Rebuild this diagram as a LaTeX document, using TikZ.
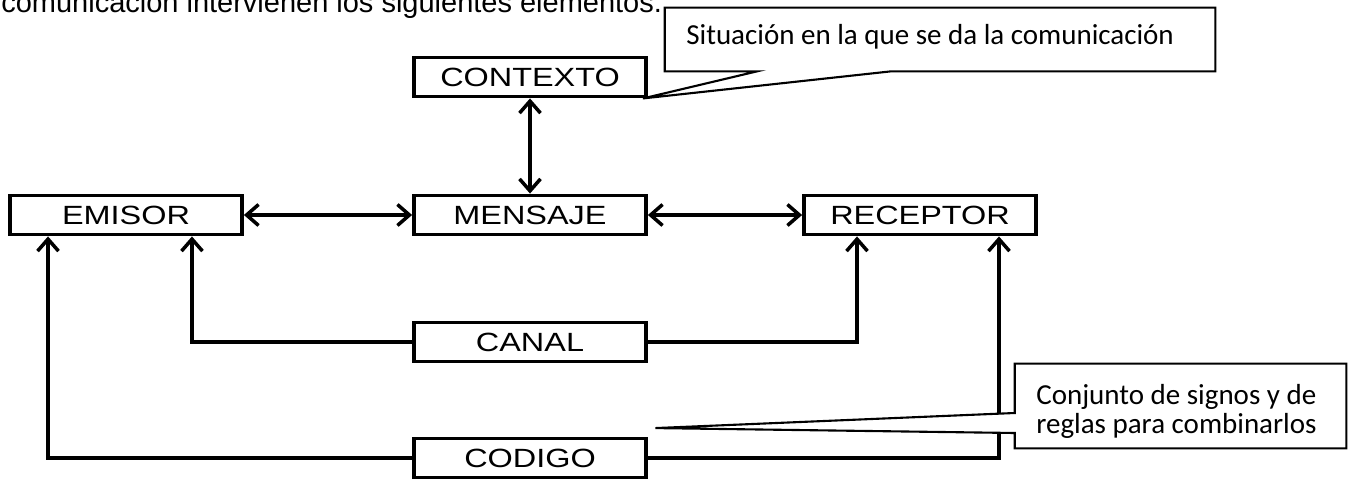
\documentclass[tikz,border=0pt]{standalone}
\usepackage{fontspec}
\usepackage{graphicx}
\newfontfamily\arial{Liberation Sans}
\newfontfamily\calibri{Carlito}
\usetikzlibrary{arrows.meta, positioning}
\newcommand{\ancho}[1]{\scalebox{1.23}[1]{#1}}

\begin{document}
\begin{tikzpicture}[x=0.02cm, y=-0.02cm,
    caja/.style={draw, line width=2.2pt, minimum width=4.64cm, minimum height=0.78cm, inner sep=0pt, font=\arial\fontsize{15}{16}\selectfont},
    flecha/.style={line width=2pt, {Straight Barb[length=0.24cm, width=0.42cm]}-{Straight Barb[length=0.24cm, width=0.42cm]}},
    sube/.style={line width=2pt, -{Straight Barb[length=0.24cm, width=0.42cm]}},
    nota/.style={draw=none, inner sep=0pt},
    notaborde/.style={draw, fill=white, line width=1.2pt, line join=miter},
    notatexto/.style={inner sep=0pt, anchor=west, align=left, font=\calibri\fontsize{16.5}{16.5}\selectfont}]
    \useasboundingbox (0,0) rectangle (1351,480);

    % texto de arriba, cortado por el borde
    \node[inner sep=0pt, anchor=base west, font=\arial\fontsize{16.5}{18}\selectfont] (titulo) at (1,12) {comunicación intervienen los siguientes elementos.};

    \node[caja] (contexto) at (530,77) {\ancho{CONTEXTO}};
    \node[caja] (emisor) at (126,215) {\ancho{EMISOR}};
    \node[caja] (mensaje) at (530,215) {\ancho{MENSAJE}};
    \node[caja] (receptor) at (920,215) {\ancho{RECEPTOR}};
    \node[caja] (canal) at (530,342) {\ancho{CANAL}};
    \node[caja] (codigo) at (530,458) {\ancho{CODIGO}};

    \draw[flecha] (emisor) -- (mensaje);
    \draw[flecha] (mensaje) -- (receptor);
    \draw[flecha] (contexto) -- (mensaje);

    \draw[sube] (canal.west) -| ([xshift=1.32cm]emisor.south);
    \draw[sube] (canal.east) -| ([xshift=-1.26cm]receptor.south);
    \draw[sube] (codigo.west) -| ([xshift=-1.56cm]emisor.south);
    \draw[sube] (codigo.east) -| ([xshift=1.58cm]receptor.south);

    % llamadas
    \node[nota, minimum width=11cm, minimum height=1.26cm] (sitNota) at (940,39.5) {};
    \filldraw[notaborde] (sitNota.south west) -- (sitNota.north west) -- (sitNota.north east) -- (sitNota.south east)
        -- ([xshift=-0.98cm]sitNota.south) -- ([xshift=-0.1cm]contexto.south east) -- ([xshift=-3.66cm]sitNota.south) -- cycle;
    \node[notatexto] (sitTexto) at (686,37) {Situación en la que se da la comunicación};

    \node[nota, minimum width=6.62cm, minimum height=1.68cm] (codNota) at (1180.5,406) {};
    \filldraw[notaborde] (codNota.north west) -- (codNota.north east) -- (codNota.south east) -- (codNota.south west)
        -- ([yshift=-0.54cm]codNota.west) -- ([xshift=0.15cm, yshift=0.17cm]codigo.north east) -- ([yshift=-0.14cm]codNota.west) -- cycle;
    \node[notatexto] (codTexto) at (1036,411.5) {Conjunto de signos y de\\reglas para combinarlos};
\end{tikzpicture}
\end{document}
